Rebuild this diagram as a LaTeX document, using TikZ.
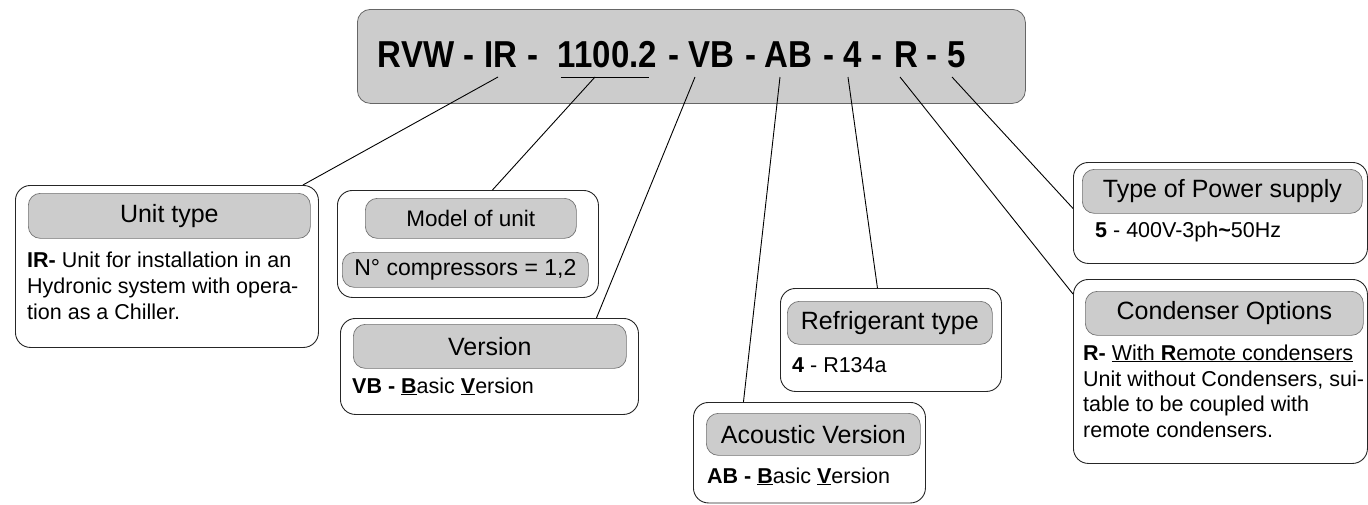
\documentclass[tikz,border=0pt]{standalone}
\usepackage{fontspec}
\setmainfont{Liberation Sans}
\usepackage{graphicx}
\definecolor{hdrgray}{HTML}{CCCCCC}
\newcommand\squeeze[1]{\scalebox{0.88}[1]{#1}}
\tikzset{
  outerbox/.style={draw=black!85, line width=0.9pt, rounded corners=15pt, fill=white, anchor=north west, inner sep=0pt},
  hdrbox/.style={draw=black!55, line width=0.7pt, fill=hdrgray, rounded corners=12pt, anchor=north west, inner sep=0pt, font=\fontsize{25}{25}\selectfont},
  bodytxt/.style={anchor=base west, inner sep=0pt, font=\fontsize{21.5}{25.7}\selectfont},
  tok/.style={anchor=base, inner sep=0pt, font=\bfseries\fontsize{37.5}{37.5}\selectfont},
  conn/.style={draw=black, line width=0.9pt}
}
\begin{document}
\begin{tikzpicture}[x=1pt,y=-1pt]
\useasboundingbox (0,0) rectangle (1368,504);
% title
\node[fill=hdrgray, draw=black!60, line width=0.8pt, rounded corners=13pt, minimum width=668, minimum height=94, anchor=north west, inner sep=0pt] (title) at (357,9) {};
\node[tok] (rvw) at (416,67) {\squeeze{RVW}};
\node[tok] (h1) at (468.5,67) {\squeeze{-}};
\node[tok] (ir) at (501,67) {\squeeze{IR}};
\node[tok] (h2) at (533,67) {\squeeze{-}};
\node[tok] (num) at (607.5,67) {\squeeze{1100.2}};
\node[tok] (h3) at (674,67) {\squeeze{-}};
\node[tok] (vb) at (711.5,67) {\squeeze{VB}};
\node[tok] (h4) at (751,67) {\squeeze{-}};
\node[tok] (ab) at (788.5,67) {\squeeze{AB}};
\node[tok] (h5) at (829,67) {\squeeze{-}};
\node[tok] (four) at (852.5,67) {\squeeze{4}};
\node[tok] (h6) at (877,67) {\squeeze{-}};
\node[tok] (rr) at (906,67) {\squeeze{R}};
\node[tok] (h7) at (932,67) {\squeeze{-}};
\node[tok] (five) at (956.5,67) {\squeeze{5}};
\draw[conn] ([xshift=3pt,yshift=-10pt]num.base west) -- ([xshift=-8pt,yshift=-10pt]num.base east);

% Unit type
\node[outerbox, minimum width=303, minimum height=162] (unit) at (15,185) {};
\node[hdrbox, minimum width=282, minimum height=45] (unith) at (28,193) {Unit type};
\node[bodytxt] (unit1) at (27,267) {\textbf{IR-} Unit for installation in an};
\node[bodytxt] (unit2) at (27,293) {Hydronic system with opera-};
\node[bodytxt] (unit3) at (27,319) {tion as a Chiller.};

% Model
\node[outerbox, minimum width=261, minimum height=107] (model) at (337,190) {};
\node[hdrbox, minimum width=211, minimum height=40, font=\fontsize{22.5}{22.5}\selectfont] (modelh) at (365,198) {Model of unit};
\node[hdrbox, minimum width=246, minimum height=35, font=\fontsize{23}{23}\selectfont] (comp) at (342,252) {N° compressors = 1,2};

% Version
\node[outerbox, minimum width=298, minimum height=96] (version) at (340,318) {};
\node[hdrbox, minimum width=273, minimum height=44] (versionh) at (353,324) {Version};
\node[bodytxt] (version1) at (352,393) {\textbf{VB - \underline{B}}asic \textbf{\underline{V}}ersion};

% Acoustic
\node[outerbox, minimum width=232, minimum height=100.5] (acoustic) at (693,402) {};
\node[hdrbox, minimum width=214, minimum height=42] (acoustich) at (706,413) {Acoustic Version};
\node[bodytxt] (acoustic1) at (707,483) {\textbf{AB - \underline{B}}asic \textbf{\underline{V}}ersion};

% Refrigerant
\node[outerbox, minimum width=221, minimum height=103] (refrig) at (780,288) {};
\node[hdrbox, minimum width=205, minimum height=43] (refrigh) at (787,301) {Refrigerant type};
\node[bodytxt] (refrig1) at (792,372) {\textbf{4} - R134a};

% Power
\node[outerbox, minimum width=294, minimum height=101] (power) at (1073,162) {};
\node[hdrbox, minimum width=280, minimum height=44] (powerh) at (1082,169) {Type of Power supply};
\node[bodytxt] (power1) at (1095,237) {\textbf{5} - 400V-3ph\textbf{\symbol{126}}50Hz};

% Condenser
\node[outerbox, minimum width=294, minimum height=184] (cond) at (1073,279) {};
\node[hdrbox, minimum width=278, minimum height=44] (condh) at (1085,291) {Condenser Options};
\node[bodytxt] (cond1) at (1083,360) {\textbf{R-} \underline{With \textbf{R}emote condensers}};
\node[bodytxt] (cond2) at (1083,386) {Unit without Condensers, sui-};
\node[bodytxt] (cond3) at (1083,411) {table to be coupled with};
\node[bodytxt] (cond4) at (1083,437) {remote condensers.};

% connectors
\draw[conn] ([xshift=-3pt,yshift=-10pt]ir.base) -- ([xshift=-16pt]unit.north east);
\draw[conn] ([xshift=-12.5pt,yshift=-10pt]num.base) -- ([xshift=24.5pt]model.north);
\draw[conn] ([xshift=-16.5pt,yshift=-10pt]vb.base) -- ([xshift=107pt]version.north);
\draw[conn] ([xshift=-8.5pt,yshift=-10pt]ab.base) -- ([xshift=-66pt]acoustic.north);
\draw[conn] ([xshift=-4.5pt,yshift=-10pt]four.base) -- ([xshift=-13.5pt]refrig.north);
\draw[conn] ([xshift=-6pt,yshift=-10pt]rr.base) -- ([yshift=-15pt]cond.north west);
\draw[conn] ([xshift=-4.5pt,yshift=-10pt]five.base) -- ([yshift=4.5pt]power.west);
\end{tikzpicture}
\end{document}
